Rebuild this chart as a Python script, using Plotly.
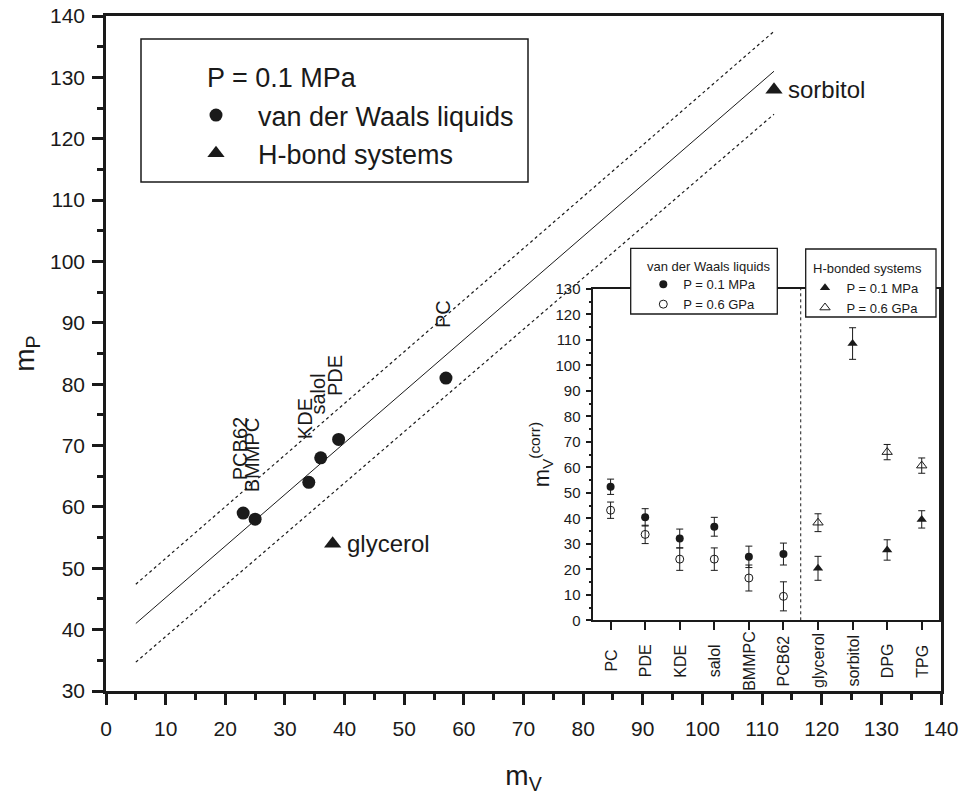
import plotly.graph_objects as go

# ---------------- data ----------------
# main panel: fragility m_P vs m_V at P = 0.1 MPa
vdw_names = ["PC", "PDE", "KDE", "salol", "BMMPC", "PCB62"]
vdw_mV = [57, 39, 34, 36, 25, 23]
vdw_mP = [81, 71, 64, 68, 58, 59]

hb_names = ["glycerol", "sorbitol"]
hb_mV = [38, 112]
hb_mP = [54, 128]

# linear fit and its band
fit_mV = [5, 112]
fit_mP = [41.0, 131.0]
band_upper = [47.4, 137.5]
band_lower = [34.7, 124.0]

# inset: m_V^(corr) per system
inset_vdw = ["PC", "PDE", "KDE", "salol", "BMMPC", "PCB62"]
inset_hb = ["glycerol", "sorbitol", "DPG", "TPG"]
vdw_01 = [52.4, 40.4, 32.1, 36.7, 24.9, 26.0]
vdw_01_err = [3.0, 3.4, 3.7, 3.7, 4.2, 4.3]
vdw_06 = [43.2, 33.7, 24.0, 24.0, 16.6, 9.4]
vdw_06_err = [3.2, 3.6, 4.4, 4.4, 5.1, 5.7]
hb_01 = [20.4, 108.6, 27.6, 39.6]
hb_01_err = [4.7, 6.2, 4.0, 3.4]
hb_06 = [38.3, None, 66.0, 60.7]
hb_06_err = [3.5, 0, 3.0, 3.0]

main_x_ticks = list(range(0, 141, 10))
main_y_ticks = list(range(30, 141, 10))

# ---------------- geometry helpers ----------------
W, H = 963, 800
ML, MR, MT, MB = 106, 22, 16, 109
PW, PH = W - ML - MR, H - MT - MB


def pxx(px):
    return (px - ML) / PW


def pxy(py):
    return (H - MB - py) / PH


FONT = "Liberation Sans, Arial, Helvetica, sans-serif"
INK = "#1a1a1a"

fig = go.Figure()

# fit line and band
fig.add_trace(go.Scatter(x=fit_mV, y=band_upper, mode="lines", showlegend=False,
                         line=dict(color=INK, width=1.2, dash="dot"), hoverinfo="skip"))
fig.add_trace(go.Scatter(x=fit_mV, y=band_lower, mode="lines", showlegend=False,
                         line=dict(color=INK, width=1.2, dash="dot"), hoverinfo="skip"))
fig.add_trace(go.Scatter(x=fit_mV, y=fit_mP, mode="lines", showlegend=False,
                         line=dict(color=INK, width=1), hoverinfo="skip"))

# main points
fig.add_trace(go.Scatter(x=vdw_mV, y=vdw_mP, mode="markers", name="van der Waals liquids",
                         text=vdw_names, legend="legend",
                         marker=dict(symbol="circle", size=13, color=INK)))
fig.add_trace(go.Scatter(x=hb_mV, y=hb_mP, mode="markers", name="H-bond systems",
                         text=hb_names, legend="legend",
                         marker=dict(symbol="triangle-up", size=15, color=INK)))

# inset traces
err_style = dict(type="data", color=INK, thickness=1, width=3.5, visible=True)
fig.add_trace(go.Scatter(x=inset_vdw, y=vdw_01, xaxis="x2", yaxis="y2", mode="markers",
                         name="P = 0.1 MPa", legend="legend2",
                         error_y=dict(array=vdw_01_err, **err_style),
                         marker=dict(symbol="circle", size=8, color=INK)))
fig.add_trace(go.Scatter(x=inset_vdw, y=vdw_06, xaxis="x2", yaxis="y2", mode="markers",
                         name="P = 0.6 GPa", legend="legend2",
                         error_y=dict(array=vdw_06_err, **err_style),
                         marker=dict(symbol="circle-open", size=8, color=INK,
                                     line=dict(width=1, color=INK))))
fig.add_trace(go.Scatter(x=inset_hb, y=hb_01, xaxis="x2", yaxis="y2", mode="markers",
                         name="P = 0.1 MPa", legend="legend3",
                         error_y=dict(array=hb_01_err, **err_style),
                         marker=dict(symbol="triangle-up", size=9, color=INK)))
fig.add_trace(go.Scatter(x=inset_hb, y=hb_06, xaxis="x2", yaxis="y2", mode="markers",
                         name="P = 0.6 GPa", legend="legend3",
                         error_y=dict(array=hb_06_err, **err_style),
                         marker=dict(symbol="triangle-up-open", size=9, color=INK,
                                     line=dict(width=1, color=INK))))

annotations = []
# rotated labels above vdW points
for name, xv, yv in zip(vdw_names, vdw_mV, vdw_mP):
    annotations.append(dict(x=xv, y=yv, xref="x", yref="y", text=name, showarrow=False,
                            textangle=-90, xshift=-3, yshift=64,
                            xanchor="center", yanchor="middle",
                            font=dict(family=FONT, size=20, color=INK)))
# labels right of H-bond points
for name, xv, yv in zip(hb_names, hb_mV, hb_mP):
    annotations.append(dict(x=xv, y=yv, xref="x", yref="y", text=name, showarrow=False,
                            xanchor="left", yanchor="middle", xshift=12,
                            font=dict(family=FONT, size=24, color=INK)))
# main legend title
annotations.append(dict(x=pxx(205), y=pxy(78), xref="paper", yref="paper", text="P = 0.1 MPa",
                        showarrow=False, xanchor="left", yanchor="middle",
                        font=dict(family=FONT, size=27, color=INK)))
# inset legend titles
annotations.append(dict(x=pxx(709), y=pxy(266), xref="paper", yref="paper",
                        text="van der Waals liquids", showarrow=False,
                        xanchor="center", yanchor="middle",
                        font=dict(family=FONT, size=13, color=INK)))
annotations.append(dict(x=pxx(867), y=pxy(268), xref="paper", yref="paper",
                        text="H-bonded systems", showarrow=False,
                        xanchor="center", yanchor="middle",
                        font=dict(family=FONT, size=13, color=INK)))
# inset category labels (centred, rotated)
for cat in inset_vdw + inset_hb:
    annotations.append(dict(x=cat, y=pxy(661), xref="x2", yref="paper", text=cat,
                            showarrow=False, textangle=-90,
                            xanchor="center", yanchor="middle",
                            font=dict(family=FONT, size=16, color=INK)))

shapes = [
    # main legend box
    dict(type="rect", xref="paper", yref="paper", x0=pxx(141), x1=pxx(528),
         y0=pxy(182), y1=pxy(39), line=dict(color=INK, width=1.5), fillcolor="white",
         layer="above"),
    # inset legend boxes
    dict(type="rect", xref="paper", yref="paper", x0=pxx(630.7), x1=pxx(777.3),
         y0=pxy(314), y1=pxy(248.3), line=dict(color=INK, width=1.3), fillcolor="white",
         layer="above"),
    dict(type="rect", xref="paper", yref="paper", x0=pxx(805.7), x1=pxx(936),
         y0=pxy(317), y1=pxy(249), line=dict(color=INK, width=1.3), fillcolor="white",
         layer="above"),
    # separator between the two groups in the inset
    dict(type="line", xref="x2", yref="y2", x0=5.5, x1=5.5, y0=0, y1=130,
         line=dict(color=INK, width=1, dash="dot"), layer="above"),
]

tickfont = dict(family=FONT, size=21, color=INK)

fig.update_layout(
    width=W, height=H,
    margin=dict(l=ML, r=MR, t=MT, b=MB, autoexpand=False),
    paper_bgcolor="white", plot_bgcolor="white",
    font=dict(family=FONT, color=INK),
    xaxis=dict(domain=[0, 1], range=[0, 140], tickvals=main_x_ticks, ticks="outside",
               ticklen=11, tickwidth=2.5, tickcolor=INK, linewidth=2.5, linecolor=INK,
               mirror=True, showgrid=False, zeroline=False, tickfont=tickfont,
               ticklabelstandoff=6, automargin=False,
               minor=dict(dtick=5, tick0=0, ticks="outside", ticklen=6, tickwidth=2.5,
                          tickcolor=INK, showgrid=False),
               title=dict(text="m<sub>V</sub>", font=dict(family=FONT, size=28, color=INK),
                          standoff=27)),
    yaxis=dict(domain=[0, 1], range=[30, 140], tickvals=main_y_ticks, ticks="outside",
               ticklen=11, tickwidth=2.5, tickcolor=INK, linewidth=2.5, linecolor=INK,
               mirror=True, showgrid=False, zeroline=False, tickfont=tickfont,
               ticklabelstandoff=3, automargin=False,
               minor=dict(dtick=5, tick0=30, ticks="outside", ticklen=6, tickwidth=2.5,
                          tickcolor=INK, showgrid=False),
               title=dict(text="m<sub>P</sub>", font=dict(family=FONT, size=28, color=INK),
                          standoff=8)),
    # tiny mirrored ticks on top / right
    xaxis3=dict(overlaying="x", side="top", anchor="y", range=[0, 140], dtick=5, tick0=0,
                ticks="outside", ticklen=3, tickwidth=1.5, tickcolor=INK, automargin=False,
                showticklabels=False, showline=False, showgrid=False, zeroline=False),
    yaxis3=dict(overlaying="y", side="right", anchor="x", range=[30, 140], dtick=5, tick0=30,
                ticks="outside", ticklen=3, tickwidth=1.5, tickcolor=INK, automargin=False,
                showticklabels=False, showline=False, showgrid=False, zeroline=False),
    # inset axes
    xaxis2=dict(domain=[pxx(593.3), pxx(939)], anchor="y2", type="category",
                categoryorder="array", categoryarray=inset_vdw + inset_hb,
                range=[-0.5, 9.5], ticks="outside", ticklen=8, tickwidth=1.5,
                tickcolor=INK, showticklabels=False, linewidth=1.5, linecolor=INK,
                mirror=True, showgrid=False, zeroline=False, automargin=False),
    yaxis2=dict(domain=[pxy(620.3), pxy(289)], anchor="x2", range=[0, 130], dtick=10,
                ticks="outside", ticklen=6, tickwidth=1.5, tickcolor=INK,
                linewidth=1.5, linecolor=INK, mirror=True, showgrid=False,
                zeroline=False, tickfont=dict(family=FONT, size=15, color=INK),
                ticklabelstandoff=2, automargin=False,
                minor=dict(dtick=5, ticks="outside", ticklen=3, tickwidth=1.5,
                           tickcolor=INK, showgrid=False),
                title=dict(text="m<sub>V</sub><sup>(corr)</sup>",
                           font=dict(family=FONT, size=22, color=INK), standoff=0)),
    legend=dict(x=pxx(174), y=pxy(91), xanchor="left", yanchor="top",
                bgcolor="rgba(0,0,0,0)", borderwidth=0, itemwidth=74,
                font=dict(family=FONT, size=27, color=INK)),
    legend2=dict(x=pxx(643.3), y=pxy(269.3), xanchor="left", yanchor="top",
                 bgcolor="rgba(0,0,0,0)", borderwidth=0, itemwidth=30,
                 font=dict(family=FONT, size=13, color=INK)),
    legend3=dict(x=pxx(803.5), y=pxy(272.7), xanchor="left", yanchor="top",
                 bgcolor="rgba(0,0,0,0)", borderwidth=0, itemwidth=33,
                 font=dict(family=FONT, size=13, color=INK)),
    annotations=annotations,
    shapes=shapes,
)

fig.write_html(
    "out.html",
    config={"displayModeBar": False},
    post_script="document.body.style.margin='0';document.body.style.overflow='hidden';",
)
